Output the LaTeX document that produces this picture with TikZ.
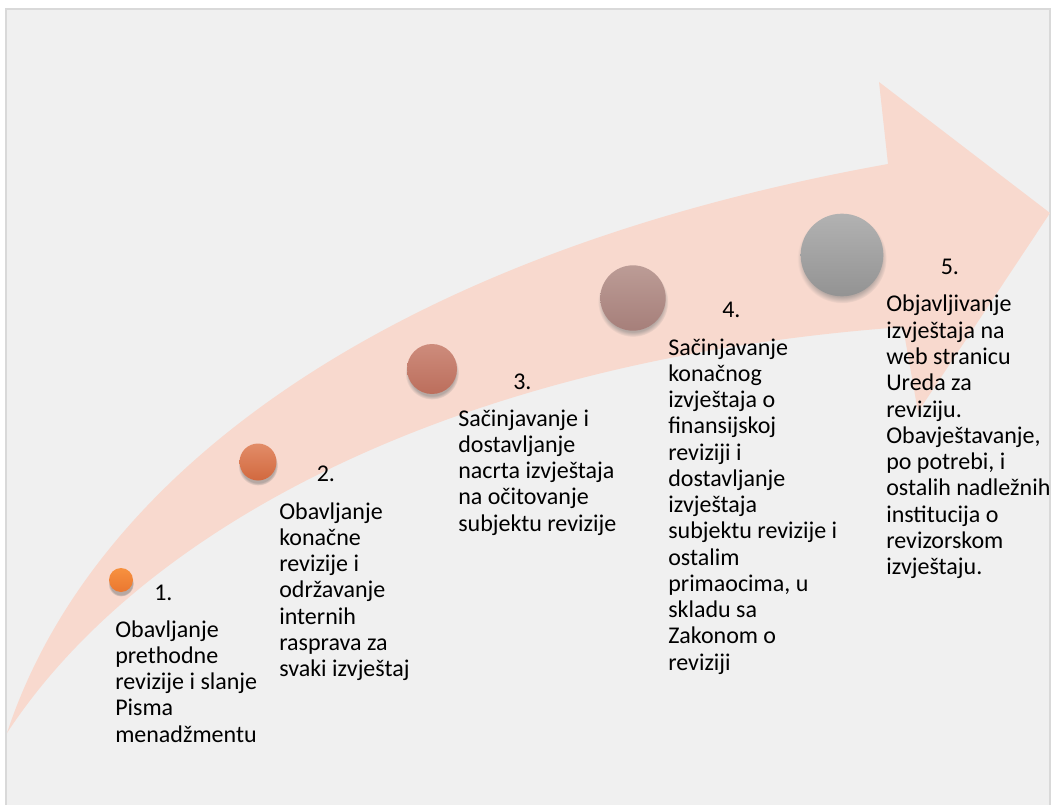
\documentclass[tikz,border=0pt]{standalone}
\usepackage{fontspec}
\setmainfont{Carlito}
\usetikzlibrary{shadows}
\definecolor{panelbg}{HTML}{F0F0F0}
\definecolor{panelline}{HTML}{D9D9D9}
\definecolor{arrowpink}{HTML}{F8D9CE}
\definecolor{c1top}{HTML}{F7913F}\definecolor{c1bot}{HTML}{EA7730}
\definecolor{c2top}{HTML}{E28C68}\definecolor{c2bot}{HTML}{D2693F}
\definecolor{c3top}{HTML}{CD8C7C}\definecolor{c3bot}{HTML}{BC6E5C}
\definecolor{c4top}{HTML}{BC9C96}\definecolor{c4bot}{HTML}{A67F7A}
\definecolor{c5top}{HTML}{B2B2B2}\definecolor{c5bot}{HTML}{939393}
\newcommand{\txtlines}[1]{\begin{tabular}[t]{@{}l@{}}#1\end{tabular}}
\begin{document}
\begin{tikzpicture}[x=0.75pt,y=-0.75pt,
  ball/.style={circle, inner sep=0pt, shading=axis,
    circular drop shadow={shadow xshift=0pt, shadow yshift=-2.5pt, shadow scale=1.08, opacity=0.55}},
  lbl/.style={anchor=base west, inner sep=0pt, text=black, font=\fontsize{18}{19.7}\selectfont},
  arrowband/.style={fill=arrowpink}]
\useasboundingbox (0,0) rectangle (1052,805);
\fill[white] (0,0) rectangle (1052,805);
\filldraw[fill=panelbg, draw=panelline, line width=1.5] (6,9) rectangle (1050,808);
% big curved arrow
\fill[arrowband] (7,733) .. controls (90,480) and (380,255) .. (888,164)
  -- (879,82) -- (1050,213) -- (918,412) -- (903,327)
  .. controls (450,360) and (140,530) .. (7,733) -- cycle;
% circles
\node[ball, minimum size=18pt, top color=c1top, bottom color=c1bot] (c1) at (121,580) {};
\node[ball, minimum size=27.75pt, top color=c2top, bottom color=c2bot] (c2) at (258,462) {};
\node[ball, minimum size=37.5pt, top color=c3top, bottom color=c3bot] (c3) at (432,369) {};
\node[ball, minimum size=49pt, top color=c4top, bottom color=c4bot] (c4) at (633,298) {};
\node[ball, minimum size=62pt, top color=c5top, bottom color=c5bot] (c5) at (842,255) {};
% numbers
\node[lbl] (n1) at (154,600) {1.};
\node[lbl] (n2) at (316.5,481.7) {2.};
\node[lbl] (n3) at (513,389) {3.};
\node[lbl] (n4) at (722,318) {4.};
\node[lbl] (n5) at (940.5,275) {5.};
% texts
\node[lbl] (t1) at (115,637) {\txtlines{Obavljanje\\prethodne\\revizije i slanje\\Pisma\\menadžmentu}};
\node[lbl] (t2) at (279,519) {\txtlines{Obavljanje\\konačne\\revizije i\\održavanje\\internih\\rasprava za\\svaki izvještaj}};
\node[lbl] (t3) at (458,426) {\txtlines{Sačinjavanje i\\dostavljanje\\nacrta izvještaja\\na očitovanje\\subjektu revizije}};
\node[lbl] (t4) at (668,355) {\txtlines{Sačinjavanje\\konačnog\\izvještaja o\\finansijskoj\\reviziji i\\dostavljanje\\izvještaja\\subjektu revizije i\\ostalim\\primaocima, u\\skladu sa\\Zakonom o\\reviziji}};
\node[lbl] (t5) at (886,312) {\txtlines{Objavljivanje\\izvještaja na\\web stranicu\\Ureda za\\reviziju.\\Obavještavanje,\\po potrebi, i\\ostalih nadležnih\\institucija o\\revizorskom\\izvještaju.}};
\end{tikzpicture}
\end{document}
